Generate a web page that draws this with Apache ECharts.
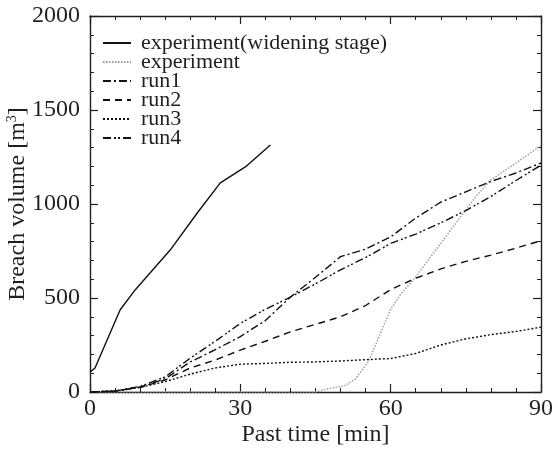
<!DOCTYPE html>
<html>
<head>
<meta charset="utf-8">
<script src="https://cdn.jsdelivr.net/npm/echarts@6/dist/echarts.min.js"></script>
<style>
  html, body { margin: 0; padding: 0; background: #fff; }
  #chart { width: 558px; height: 452px; }
</style>
</head>
<body>
<div id="chart"></div>
<script>
// experiment during the widening stage (irregular times)
const wideningTime = [0, 1, 6, 9, 16, 21.4, 26, 31, 36];
const wideningVol = [106, 128, 436, 543, 755, 952, 1112, 1197, 1314];

// experiment (grey dotted)
const expTime = [0, 45, 48, 51, 53, 55.5, 58, 60, 62, 65, 68, 70.5, 74.5, 77, 80, 85, 90];
const expVol = [0, 0, 20, 35, 70, 160, 314, 440, 520, 612, 720, 808, 952, 1040, 1128, 1218, 1310];

// simulation runs, every 5 min
const runTime = [0, 5, 10, 15, 20, 25, 30, 35, 40, 45, 50, 55, 60, 65, 70, 75, 80, 85, 90];
const run1 = [0, 5, 25, 70, 160, 225, 295, 380, 505, 610, 720, 760, 825, 925, 1010, 1065, 1120, 1165, 1218];
const run2 = [0, 5, 25, 64, 128, 170, 223, 270, 320, 360, 400, 460, 545, 605, 655, 695, 728, 765, 805];
const run3 = [0, 5, 25, 55, 95, 128, 148, 152, 158, 160, 165, 172, 178, 205, 250, 283, 305, 322, 345];
const run4 = [0, 5, 30, 80, 180, 270, 365, 440, 505, 575, 650, 715, 790, 840, 900, 965, 1040, 1125, 1207];

const xTicks = [0, 30, 60, 90];
const yTicks = [0, 500, 1000, 1500, 2000];

const FONT = '"Liberation Serif", "Times New Roman", serif';
const INK = '#231f20';

function pairs(xs, ys) {
  return xs.map((x, i) => [x, ys[i]]);
}

function lineSeries(name, xs, ys, color, type) {
  return {
    name: name,
    type: 'line',
    data: pairs(xs, ys),
    symbol: 'none',
    smooth: false,
    lineStyle: { color: color, width: 1.4, type: type },
    itemStyle: { color: color }
  };
}

function initChart() {
  const chart = echarts.init(document.getElementById('chart'));
  const axisLine = { show: true, onZero: false, lineStyle: { color: INK, width: 1.4 } };
  const tick = { inside: true, length: 8, lineStyle: { color: INK, width: 1.2 } };
  const option = {
    animation: false,
    grid: { left: 90, right: 17, top: 16, bottom: 60, containLabel: false, outerBoundsMode: 'none' },
    legend: {
      left: 97,
      top: 27,
      orient: 'vertical',
      itemWidth: 28,
      itemHeight: 14,
      itemGap: -3,
      itemStyle: { opacity: 0 },
      textStyle: { fontFamily: FONT, fontSize: 22, color: INK, padding: [0, 0, 0, 5] },
      data: ['experiment(widening stage)', 'experiment', 'run1', 'run2', 'run3', 'run4']
    },
    xAxis: [
      {
        type: 'value', min: 0, max: 90, interval: 30,
        name: 'Past time [min]', nameLocation: 'middle', nameGap: 31, nameMoveOverlap: false,
        nameTextStyle: { fontFamily: FONT, fontSize: 24, color: INK },
        axisLine: axisLine,
        axisTick: tick,
        minorTick: { show: true, splitNumber: 6, length: 4, lineStyle: { color: INK, width: 1 } },
        axisLabel: {
          fontFamily: FONT, fontSize: 24, color: INK, margin: 5,
          formatter: v => (xTicks.indexOf(v) >= 0 ? String(v) : '')
        },
        splitLine: { show: false }
      },
      {
        type: 'value', min: 0, max: 90, interval: 30, position: 'top',
        axisLine: axisLine,
        axisTick: tick,
        minorTick: { show: true, splitNumber: 6, length: 4, lineStyle: { color: INK, width: 1 } },
        axisLabel: { show: false },
        splitLine: { show: false }
      }
    ],
    yAxis: [
      {
        type: 'value', min: 0, max: 2000, interval: 500,
        name: 'Breach volume [m{sup|3}]', nameLocation: 'middle', nameGap: 60, nameRotate: 90,
        nameMoveOverlap: false,
        nameTextStyle: {
          fontFamily: FONT, fontSize: 24, color: INK,
          rich: { sup: { fontFamily: FONT, fontSize: 14, color: INK, verticalAlign: 'bottom', padding: [0, 0, 11, 0] } }
        },
        axisLine: axisLine,
        axisTick: tick,
        minorTick: { show: true, splitNumber: 5, length: 4, lineStyle: { color: INK, width: 1 } },
        axisLabel: {
          fontFamily: FONT, fontSize: 24, color: INK, margin: 10,
          formatter: v => (yTicks.indexOf(v) >= 0 ? String(v) : '')
        },
        splitLine: { show: false }
      },
      {
        type: 'value', min: 0, max: 2000, interval: 500, position: 'right',
        axisLine: axisLine,
        axisTick: tick,
        minorTick: { show: true, splitNumber: 5, length: 4, lineStyle: { color: INK, width: 1 } },
        axisLabel: { show: false },
        splitLine: { show: false }
      }
    ],
    series: [
      lineSeries('experiment(widening stage)', wideningTime, wideningVol, '#111', 'solid'),
      lineSeries('experiment', expTime, expVol, '#9a9a9a', [1.5, 1.5]),
      lineSeries('run1', runTime, run1, '#111', [8, 3, 2, 3]),
      lineSeries('run2', runTime, run2, '#111', [7, 5]),
      lineSeries('run3', runTime, run3, '#111', [2, 2]),
      lineSeries('run4', runTime, run4, '#111', [8, 3, 2, 2, 2, 3])
    ]
  };
  chart.setOption(option);
}

document.addEventListener('DOMContentLoaded', initChart);
</script>
</body>
</html>
